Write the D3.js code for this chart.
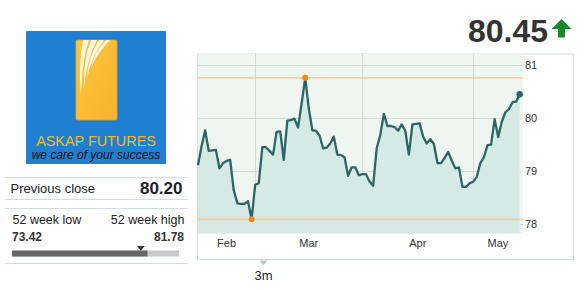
<!DOCTYPE html>
<html>
<head>
<meta charset="utf-8">
<script src="https://cdn.jsdelivr.net/npm/d3@7"></script>
<style>
  body { margin: 0; background: #fff; }
  svg text { font-family: "Liberation Sans", Arial, sans-serif; }
</style>
</head>
<body>
<svg id="chart" width="586" height="290"></svg>
<script>
// price data, one value per day (3m window)
var prices = [79.11, 79.47, 79.77, 79.38, 79.39, 79.40, 79.05, 79.15, 79.19, 79.21,
  78.64, 78.39, 78.38, 78.38, 78.43, 78.09, 78.74, 78.77, 79.45, 79.45,
  79.38, 79.31, 79.74, 79.75, 79.21, 79.95, 79.96, 79.99, 79.82, 80.28,
  80.76, 80.18, 79.77, 79.76, 79.67, 79.43, 79.44, 79.52, 79.65, 79.31,
  79.30, 79.26, 78.91, 79.07, 79.07, 78.92, 78.94, 78.94, 78.80, 78.72,
  79.43, 79.68, 80.08, 79.85, 79.85, 79.83, 79.76, 79.88, 79.76, 79.31,
  79.88, 79.89, 79.90, 79.65, 79.52, 79.60, 79.51, 79.15, 79.15, 79.25,
  79.36, 79.20, 79.05, 79.07, 78.70, 78.70, 78.77, 78.80, 78.89, 79.15,
  79.26, 79.49, 79.50, 79.98, 79.64, 79.93, 80.11, 80.17, 80.30, 80.31, 80.45];

var months = ["Feb", "Mar", "Apr", "May"];
var monthStart = [0, 16, 46, 77];   // index of first day of each month
var yTicks = [78, 79, 80, 81];

var lastPrice = "80.45";
var prevClose = "80.20";
var weekLow = 73.42, weekHigh = 81.78;
var prevCloseVal = 80.20, markerVal = 79.87;

var svg = d3.select("#chart");

// ---------- left panel: logo ----------
var logo = svg.append("g");
logo.append("rect").attr("x", 26).attr("y", 31).attr("width", 140).attr("height", 133).attr("fill", "#1f7fd1");

var defs = svg.append("defs");
var grad = defs.append("linearGradient").attr("id", "gold").attr("x1", 0).attr("y1", 0).attr("x2", 1).attr("y2", 1);
grad.append("stop").attr("offset", "0%").attr("stop-color", "#fcc640");
grad.append("stop").attr("offset", "100%").attr("stop-color", "#f7b22c");

logo.append("rect").attr("x", 76).attr("y", 40).attr("width", 41).attr("height", 80).attr("rx", 1.5)
  .attr("fill", "url(#gold)").attr("stroke", "#e9a21c").attr("stroke-width", 0.8);

// white streaks on the gold bar (blade shapes fanning from the top)
var streaks = [
  "M83,40 L89,40 Q82,60 81,96 Q78,66 83,40 Z",
  "M91,40 L97,40 Q87,58 84,88 Q83,60 91,40 Z",
  "M99,40 L104,40 Q92,55 87,78 Q88,57 99,40 Z",
  "M106,40 L110,40 Q98,52 91,68 Q94,52 106,40 Z"
];
logo.selectAll("path.streak").data(streaks).enter().append("path")
  .attr("class", "streak")
  .attr("d", d => d)
  .attr("fill", "#fffdf0")
  .attr("opacity", 0.92);

logo.append("text").attr("x", 96).attr("y", 146).attr("text-anchor", "middle")
  .attr("font-size", 14.4).attr("fill", "#f3bb1c").text("ASKAP FUTURES");
logo.append("text").attr("x", 96).attr("y", 159).attr("text-anchor", "middle")
  .attr("font-size", 12).attr("font-style", "italic").attr("fill", "#111").text("we care of your success");

// ---------- left panel: stats ----------
var lines = [177.5, 199.5, 208.5, 263.5];
svg.selectAll("line.sep").data(lines).enter().append("line")
  .attr("class", "sep")
  .attr("x1", 5).attr("x2", 188).attr("y1", d => d).attr("y2", d => d)
  .attr("stroke", "#d3dddd").attr("stroke-width", 1);

svg.append("text").attr("x", 10.5).attr("y", 193).attr("font-size", 13).attr("fill", "#222").text("Previous close");
svg.append("text").attr("x", 182.5).attr("y", 194).attr("text-anchor", "end").attr("font-size", 17)
  .attr("font-weight", "bold").attr("fill", "#222").text(prevClose);

svg.append("text").attr("x", 12.5).attr("y", 224).attr("font-size", 12.5).attr("fill", "#222").text("52 week low");
svg.append("text").attr("x", 184.5).attr("y", 224).attr("text-anchor", "end").attr("font-size", 12.5).attr("fill", "#222").text("52 week high");
svg.append("text").attr("x", 12).attr("y", 240.5).attr("font-size", 12).attr("font-weight", "bold").attr("fill", "#333").text(weekLow.toFixed(2));
svg.append("text").attr("x", 184).attr("y", 240.5).attr("text-anchor", "end").attr("font-size", 12).attr("font-weight", "bold").attr("fill", "#333").text(weekHigh.toFixed(2));

var rangeX = d3.scaleLinear().domain([weekLow, weekHigh]).range([12, 179]);
svg.append("rect").attr("x", 12).attr("y", 250.5).attr("width", rangeX(weekHigh) - 12).attr("height", 6).attr("fill", "#c9c9c9");
svg.append("rect").attr("x", 12).attr("y", 250.5).attr("width", rangeX(prevCloseVal) - 12).attr("height", 6).attr("fill", "#666");
var mx = rangeX(markerVal);
svg.append("path").attr("d", `M${mx - 4},246 L${mx + 4},246 L${mx},250.5 Z`).attr("fill", "#333");

// ---------- header price ----------
svg.append("text").attr("x", 548).attr("y", 41.5).attr("text-anchor", "end").attr("font-size", 32)
  .attr("font-weight", "bold").attr("fill", "#333").text(lastPrice);
// green up arrow
svg.append("path")
  .attr("d", "M561.5,19 L571.5,29 L565,29 L565,37.5 L558,37.5 L558,29 L551.5,29 Z")
  .attr("fill", "#168a2a");

// ---------- chart panel ----------
var panel = {left: 197.5, top: 54, right: 573.5, bottom: 259.5};
var plot = {left: 198, top: 54, right: 522.7, bottom: 233.5};

svg.append("rect").attr("x", panel.left).attr("y", panel.top)
  .attr("width", panel.right - panel.left).attr("height", panel.bottom - panel.top)
  .attr("fill", "#fff").attr("stroke", "#d2dede").attr("stroke-width", 1);

svg.append("rect").attr("x", plot.left).attr("y", plot.top)
  .attr("width", plot.right - plot.left).attr("height", plot.bottom - plot.top)
  .attr("fill", "#eff6f2");

var x = d3.scaleLinear().domain([0, 90.85]).range([plot.left, plot.right]);
var y = d3.scaleLinear().domain([77.82, 81.21]).range([plot.bottom, plot.top]);

// grid
svg.selectAll("line.hgrid").data(yTicks).enter().append("line")
  .attr("class", "hgrid")
  .attr("x1", plot.left).attr("x2", plot.right)
  .attr("y1", d => Math.round(y(d)) + 0.5).attr("y2", d => Math.round(y(d)) + 0.5)
  .attr("stroke", "#cddcd7").attr("stroke-width", 1);

svg.selectAll("line.vgrid").data(monthStart.slice(1)).enter().append("line")
  .attr("class", "vgrid")
  .attr("x1", d => Math.round(x(d)) + 0.5).attr("x2", d => Math.round(x(d)) + 0.5)
  .attr("y1", plot.top).attr("y2", plot.bottom)
  .attr("stroke", "#cddcd7").attr("stroke-width", 1);

// area + line
var area = d3.area().x((d, i) => x(i)).y0(plot.bottom).y1(d => y(d));
var line = d3.line().x((d, i) => x(i)).y(d => y(d));

svg.append("path").datum(prices).attr("d", area).attr("fill", "#d5eae5");

// min/max lines
var maxV = d3.max(prices), minV = d3.min(prices);
var maxI = prices.indexOf(maxV), minI = prices.indexOf(minV);
svg.selectAll("line.mm").data([maxV, minV]).enter().append("line")
  .attr("class", "mm")
  .attr("x1", plot.left).attr("x2", plot.right)
  .attr("y1", d => y(d)).attr("y2", d => y(d))
  .attr("stroke", "#f6c384").attr("stroke-width", 1.2);

svg.append("path").datum(prices).attr("d", line)
  .attr("fill", "none").attr("stroke", "#2b6565").attr("stroke-width", 2.3)
  .attr("stroke-linejoin", "round");

svg.selectAll("circle.mm").data([maxI, minI]).enter().append("circle")
  .attr("class", "mm")
  .attr("cx", d => x(d)).attr("cy", d => y(prices[d])).attr("r", 3)
  .attr("fill", "#f28a12");

svg.append("circle").attr("cx", x(prices.length - 1)).attr("cy", y(prices[prices.length - 1]))
  .attr("r", 3.2).attr("fill", "#2b6565");

// y axis labels
svg.selectAll("text.ylab").data(yTicks).enter().append("text")
  .attr("class", "ylab")
  .attr("x", 525).attr("y", d => y(d) + 4)
  .attr("font-size", 11).attr("fill", "#333").text(d => d);

// x axis labels, centred between month boundaries
var bounds = monthStart.concat([x.domain()[1]]);
svg.selectAll("text.xlab").data(months).enter().append("text")
  .attr("class", "xlab")
  .attr("x", (d, i) => (x(bounds[i]) + x(bounds[i + 1])) / 2)
  .attr("y", 247)
  .attr("text-anchor", "middle")
  .attr("font-size", 11).attr("fill", "#333")
  .text(d => d);

// range selector
svg.append("path").attr("d", "M259.5,260.5 L267.5,260.5 L263.5,265.5 Z").attr("fill", "#b3cccc");
svg.append("text").attr("x", 263.5).attr("y", 280).attr("text-anchor", "middle")
  .attr("font-size", 13).attr("fill", "#222").text("3m");
</script>
</body>
</html>
